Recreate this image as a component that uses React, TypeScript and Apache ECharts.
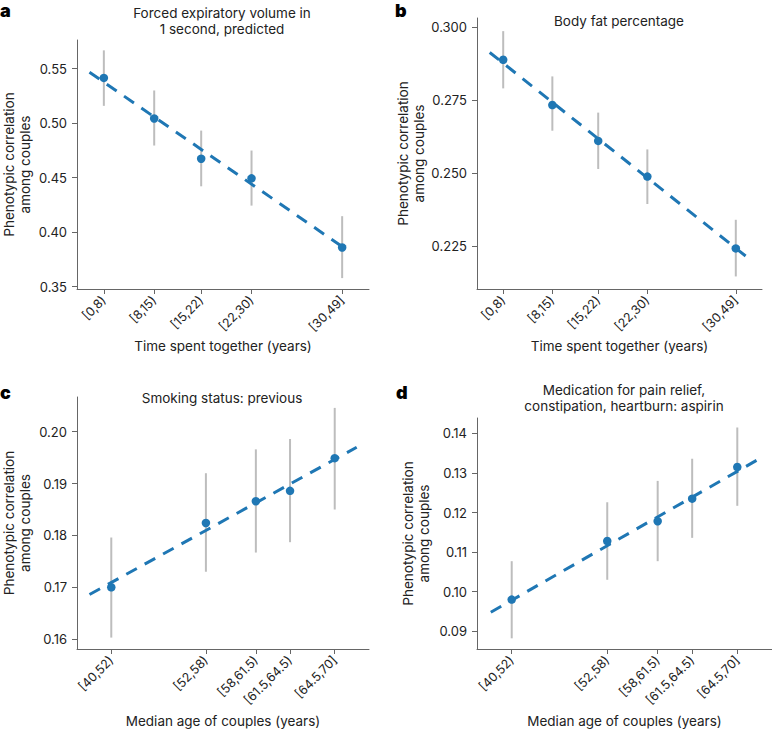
import React, { useEffect, useRef } from "react";
import * as echarts from "echarts";

// ---- data ----
const timeCats = ["[0,8)", "[8,15)", "[15,22)", "[22,30)", "[30,49]"];
const timeX = [4, 11.5, 18.5, 26, 39.5];
const ageCats = ["[40,52)", "[52,58)", "[58,61.5)", "[61.5,64.5)", "[64.5,70]"];
const ageX = [46, 55, 59.75, 63, 67.25];

const fevR = [0.5415, 0.5043, 0.4674, 0.4494, 0.386];
const fevLo = [0.5159, 0.4795, 0.4421, 0.4244, 0.3579];
const fevHi = [0.5668, 0.53, 0.4932, 0.4749, 0.4147];
const fevFit = [[1.86, 0.5467], [40.26, 0.3835]];
const fevTicks = [0.35, 0.4, 0.45, 0.5, 0.55];

const fatR = [0.2887, 0.2732, 0.2609, 0.2487, 0.2241];
const fatLo = [0.2789, 0.2644, 0.2513, 0.2393, 0.2145];
const fatHi = [0.2985, 0.283, 0.2706, 0.258, 0.2339];
const fatFit = [[1.94, 0.2912], [41.5, 0.2206]];
const fatTicks = [0.225, 0.25, 0.275, 0.3];

const smokeR = [0.17, 0.1824, 0.1866, 0.1886, 0.1949];
const smokeLo = [0.1603, 0.173, 0.1767, 0.1787, 0.185];
const smokeHi = [0.1796, 0.192, 0.1966, 0.1986, 0.2046];
const smokeFit = [[43.93, 0.1686], [69.34, 0.197]];
const smokeTicks = [0.16, 0.17, 0.18, 0.19, 0.2];

const aspR = [0.098, 0.1128, 0.1178, 0.1235, 0.1315];
const aspLo = [0.0882, 0.103, 0.1077, 0.1136, 0.1217];
const aspHi = [0.1077, 0.1226, 0.128, 0.1336, 0.1415];
const aspFit = [[44.03, 0.0948], [69.4, 0.1337]];
const aspTicks = [0.09, 0.1, 0.11, 0.12, 0.13, 0.14];

const BLUE = "#1f77b4";
const FONT = "Inter";
const TXT = "#222";
const AXIS = "#666";

const panels = [
  {
    grid: { left: 75, top: 40, width: 294, height: 249 },
    xs: timeX, cats: timeCats, xMin: 0, xMax: 43.5,
    yMin: 0.3479, yMax: 0.5763, ticks: fevTicks, dec: 2,
    r: fevR, lo: fevLo, hi: fevHi, fit: fevFit,
    xName: "Time spent together (years)", xGap: 50, yGap: 44,
  },
  {
    grid: { left: 477, top: 18, width: 285, height: 271 },
    xs: timeX, cats: timeCats, xMin: 0, xMax: 43.5,
    yMin: 0.2102, yMax: 0.303, ticks: fatTicks, dec: 3,
    r: fatR, lo: fatLo, hi: fatHi, fit: fatFit,
    xName: "Time spent together (years)", xGap: 50, yGap: 50,
  },
  {
    grid: { left: 75, top: 397, width: 294, height: 252 },
    xs: ageX, cats: ageCats, xMin: 42.74, xMax: 70.51,
    yMin: 0.1581, yMax: 0.2067, ticks: smokeTicks, dec: 2,
    r: smokeR, lo: smokeLo, hi: smokeHi, fit: smokeFit,
    xName: "Median age of couples (years)", xGap: 65, yGap: 44,
  },
  {
    grid: { left: 477, top: 418, width: 295, height: 231 },
    xs: ageX, cats: ageCats, xMin: 42.73, xMax: 70.52,
    yMin: 0.0855, yMax: 0.1439, ticks: aspTicks, dec: 2,
    r: aspR, lo: aspLo, hi: aspHi, fit: aspFit,
    xName: "Median age of couples (years)", xGap: 65, yGap: 45,
  },
];

const titles = [
  { x: 222, y: 13, text: "Forced expiratory volume in" },
  { x: 222, y: 29, text: "1 second, predicted" },
  { x: 619, y: 21, text: "Body fat percentage" },
  { x: 222, y: 398, text: "Smoking status: previous" },
  { x: 624, y: 390, text: "Medication for pain relief," },
  { x: 624, y: 406, text: "constipation, heartburn: aspirin" },
];
const letters = [
  { x: 0, y: 19, text: "a" },
  { x: 395, y: 19, text: "b" },
  { x: 0, y: 401, text: "c" },
  { x: 396, y: 401, text: "d" },
];

export default function App() {
  const ref = useRef<HTMLDivElement>(null);
  useEffect(() => {
    if (!ref.current) return;
    const chart = echarts.init(ref.current, null, { renderer: "svg" });
    const xAxis: any[] = [];
    const yAxis: any[] = [];
    const series: any[] = [];
    panels.forEach((p, i) => {
      xAxis.push({
        type: "value", gridIndex: i, min: p.xMin, max: p.xMax,
        name: p.xName, nameLocation: "middle", nameGap: p.xGap,
        nameTextStyle: { fontFamily: FONT, fontSize: 13.5, color: TXT },
        axisLine: { show: true, lineStyle: { color: AXIS, width: 1 } },
        axisTick: { show: true, length: 5, customValues: p.xs, lineStyle: { color: AXIS } },
        axisLabel: {
          customValues: p.xs, rotate: 45, margin: 9,
          fontFamily: FONT, fontSize: 12.5, color: TXT,
          formatter: (v: number) => {
            let best = 0;
            p.xs.forEach((x, k) => { if (Math.abs(x - v) < Math.abs(p.xs[best] - v)) best = k; });
            return p.cats[best];
          },
        },
        splitLine: { show: false },
      });
      yAxis.push({
        type: "value", gridIndex: i, min: p.yMin, max: p.yMax,
        name: "Phenotypic correlation\namong couples", nameLocation: "middle", nameRotate: 90,
        nameGap: p.yGap,
        nameTextStyle: { fontFamily: FONT, fontSize: 13.5, color: TXT, lineHeight: 16 },
        axisLine: { show: true, lineStyle: { color: AXIS, width: 1 } },
        axisTick: { show: true, length: 5, customValues: p.ticks, lineStyle: { color: AXIS } },
        axisLabel: {
          customValues: p.ticks, margin: 10,
          fontFamily: FONT, fontSize: 13, color: TXT,
          formatter: (v: number) => v.toFixed(p.dec),
        },
        splitLine: { show: false },
      });
      series.push({
        type: "custom", xAxisIndex: i, yAxisIndex: i, z: 1,
        data: p.xs.map((x, k) => [x, p.lo[k], p.hi[k]]),
        encode: { x: 0, y: [1, 2] },
        renderItem: (_params: any, api: any) => {
          const a = api.coord([api.value(0), api.value(1)]);
          const b = api.coord([api.value(0), api.value(2)]);
          return {
            type: "line",
            shape: { x1: a[0], y1: a[1], x2: b[0], y2: b[1] },
            style: { stroke: "#bdbdbd", lineWidth: 2 },
          };
        },
      });
      series.push({
        type: "line", xAxisIndex: i, yAxisIndex: i, z: 2,
        data: p.fit, symbol: "none",
        lineStyle: { color: BLUE, width: 3, type: [12, 9] },
      });
      series.push({
        type: "scatter", xAxisIndex: i, yAxisIndex: i, z: 3,
        data: p.xs.map((x, k) => [x, p.r[k]]),
        symbol: "circle", symbolSize: 8.5,
        itemStyle: { color: BLUE, opacity: 1 },
      });
    });
    const graphic: any[] = [];
    titles.forEach((t) =>
      graphic.push({
        type: "text", x: t.x, y: t.y,
        style: { text: t.text, fill: TXT, font: `13.5px ${FONT}`, textAlign: "center", textVerticalAlign: "middle" },
      })
    );
    letters.forEach((t) =>
      graphic.push({
        type: "text", x: t.x, y: t.y,
        style: { text: t.text, fill: "#000", font: `900 18px ${FONT}`, textAlign: "left", textVerticalAlign: "bottom" },
      })
    );
    chart.setOption({
      animation: false,
      backgroundColor: "#fff",
      grid: panels.map((p) => ({ ...p.grid, containLabel: false })),
      xAxis, yAxis, series, graphic,
    });
    return () => chart.dispose();
  }, []);
  return (
    <div
      ref={ref}
      style={{ position: "fixed", left: 0, top: 0, width: 772, height: 730 }}
    />
  );
}
